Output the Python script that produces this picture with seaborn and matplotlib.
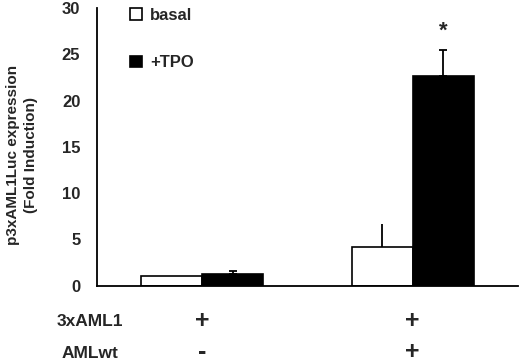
import pandas as pd
import matplotlib.pyplot as plt
import seaborn as sns

# valores
condiciones = ["3xAML1", "3xAML1+AMLwt"]
tratamientos = ["basal", "+TPO"]
basal = [1.0, 4.2]
basal_err = [0.0, 2.45]
tpo = [1.3, 22.7]
tpo_err = [0.25, 2.8]
marca_aml1 = ["+", "+"]
marca_amlwt = ["-", "+"]
yticks = [0, 5, 10, 15, 20, 25, 30]

df = pd.DataFrame({
    "condicion": condiciones * 2,
    "tratamiento": [tratamientos[0]] * 2 + [tratamientos[1]] * 2,
    "valor": basal + tpo,
})

sns.set_style("white")
plt.rcParams["font.family"] = ["Liberation Sans", "DejaVu Sans"]
plt.rcParams["font.weight"] = "bold"

fig = plt.figure(figsize=(5.2, 3.63), dpi=100)
ax = fig.add_axes([0.1865, 0.213, 0.8095, 0.765])

sns.barplot(
    data=df, x="condicion", y="valor", hue="tratamiento",
    palette=["white", "black"], edgecolor="black", linewidth=1.2,
    width=0.58, errorbar=None, ax=ax,
)

# barras de error solo hacia arriba
for cont, errs, cap in zip(ax.containers, [basal_err, tpo_err], [0, 3]):
    for bar, e in zip(cont, errs):
        if e <= 0:
            continue
        xc = bar.get_x() + bar.get_width() / 2
        h = bar.get_height()
        ax.errorbar(xc, h, yerr=[[0], [e]], fmt="none", ecolor="black",
                    elinewidth=1.3, capsize=cap, capthick=1.3)

# asterisco sobre la barra +TPO significativa
bar_sig = ax.containers[1][1]
ax.text(bar_sig.get_x() + bar_sig.get_width() / 2, tpo[1] + tpo_err[1] + 2.0, "*",
        ha="center", va="center", fontsize=16, fontweight="bold")

ax.set_xlim(-0.5, 1.5)
ax.set_ylim(0, 30)
ax.set_yticks(yticks)
ax.set_xticks([-0.5, 0.5, 1.5])
ax.set_xticklabels([])
ax.set_xlabel("")
ax.tick_params(axis="y", direction="out", length=4, width=1.2, pad=8, labelsize=12)
ax.tick_params(axis="x", direction="out", length=3, width=1.2)
for lab in ax.get_yticklabels():
    lab.set_fontweight("bold")

ax.set_ylabel("p3xAML1Luc expression\n(Fold Induction)", fontsize=11,
              fontweight="bold", linespacing=1.4)
ax.yaxis.set_label_coords(-0.14, 0.47)

sns.despine(ax=ax)
ax.spines["left"].set_linewidth(1.3)
ax.spines["bottom"].set_linewidth(1.3)
ax.spines["left"].set_color("black")
ax.spines["bottom"].set_color("black")

leg = ax.legend(loc="upper left", bbox_to_anchor=(0.078, 1.0), frameon=False,
                fontsize=12, handlelength=0.75, handleheight=0.7,
                handletextpad=0.45, labelspacing=1.95, borderaxespad=0,
                borderpad=0)
for t in leg.get_texts():
    t.set_fontweight("bold")
for h in leg.legend_handles:
    h.set_edgecolor("black")
    h.set_linewidth(1.2)

# filas de condiciones bajo el eje
fig.text(0.173, 0.1138, "3xAML1", ha="center", va="center", fontsize=12.5, fontweight="bold")
fig.text(0.173, 0.0275, "AMLwt", ha="center", va="center", fontsize=12.5, fontweight="bold")
trans = ax.get_xaxis_transform()
for i, (m1, m2) in enumerate(zip(marca_aml1, marca_amlwt)):
    ax.text(i, -0.128, m1, transform=trans, ha="center", va="center",
            fontsize=18, fontweight="bold")
    ax.text(i, -0.24, m2, transform=trans, ha="center", va="center",
            fontsize=18, fontweight="bold")

fig.savefig("out.png", dpi=100)
